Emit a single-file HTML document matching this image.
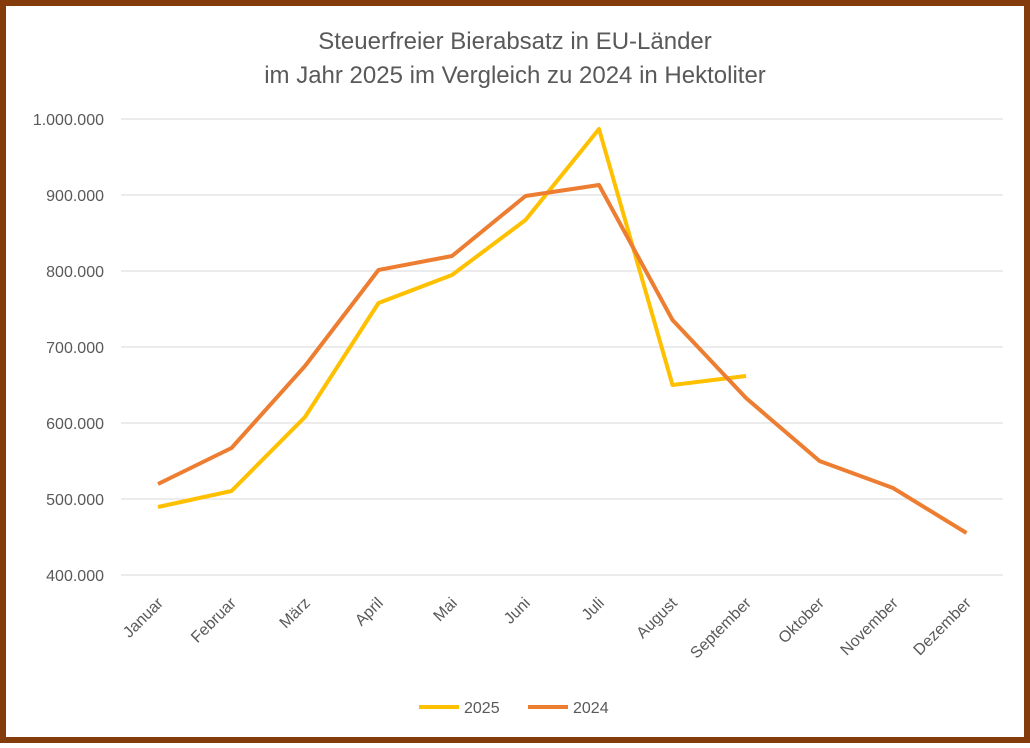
<!DOCTYPE html>
<html><head><meta charset="utf-8"><style>
html,body{margin:0;padding:0;background:#fff;}
body{width:1030px;height:743px;overflow:hidden;}
</style></head><body>
<svg width="1030" height="743" viewBox="0 0 1030 743" xmlns="http://www.w3.org/2000/svg" font-family="Liberation Sans, sans-serif">
<rect x="0" y="0" width="1030" height="743" fill="#fff"/>
<rect x="3" y="3" width="1024" height="737" fill="none" stroke="#843c0c" stroke-width="6"/>
<text x="515" y="49" text-anchor="middle" font-size="24" fill="#595959">Steuerfreier Bierabsatz in EU-Länder</text>
<text x="515" y="83" text-anchor="middle" font-size="24" fill="#595959">im Jahr 2025 im Vergleich zu 2024 in Hektoliter</text>
<g stroke="#d9d9d9" stroke-width="1">
<line x1="121" x2="1003" y1="119" y2="119"/><line x1="121" x2="1003" y1="195" y2="195"/>
<line x1="121" x2="1003" y1="271" y2="271"/><line x1="121" x2="1003" y1="347" y2="347"/>
<line x1="121" x2="1003" y1="423" y2="423"/><line x1="121" x2="1003" y1="499" y2="499"/>
<line x1="121" x2="1003" y1="575" y2="575"/>
</g>
<g font-size="16" fill="#595959" text-anchor="end">
<text x="104" y="125">1.000.000</text><text x="104" y="201">900.000</text>
<text x="104" y="277">800.000</text><text x="104" y="353">700.000</text>
<text x="104" y="429">600.000</text><text x="104" y="505">500.000</text>
<text x="104" y="581">400.000</text>
</g>
<g font-size="16" fill="#595959" text-anchor="end">
<text transform="translate(164,604) rotate(-45)">Januar</text>
<text transform="translate(237,604) rotate(-45)">Februar</text>
<text transform="translate(311,604) rotate(-45)">März</text>
<text transform="translate(384,604) rotate(-45)">April</text>
<text transform="translate(458,604) rotate(-45)">Mai</text>
<text transform="translate(531,604) rotate(-45)">Juni</text>
<text transform="translate(605,604) rotate(-45)">Juli</text>
<text transform="translate(678,604) rotate(-45)">August</text>
<text transform="translate(752,604) rotate(-45)">September</text>
<text transform="translate(825,604) rotate(-45)">Oktober</text>
<text transform="translate(899,604) rotate(-45)">November</text>
<text transform="translate(972,604) rotate(-45)">Dezember</text>
</g>
<polyline fill="none" stroke="#ffc000" stroke-width="4" stroke-linejoin="round" points="158,507 231.5,491 305,417 378.5,303 452,275 525.5,220 599,129 672.5,385 746,376"/>
<polyline fill="none" stroke="#ed7d31" stroke-width="4" stroke-linejoin="round" points="158,484 231.5,448 305,366 378.5,270 452,256 525.5,196 599,185 672.5,320 746,398 819.5,461 893,488 966.5,533"/>
<line x1="419" x2="459" y1="707" y2="707" stroke="#ffc000" stroke-width="4"/>
<text x="464" y="713" font-size="16" fill="#595959">2025</text>
<line x1="528" x2="568" y1="707" y2="707" stroke="#ed7d31" stroke-width="4"/>
<text x="573" y="713" font-size="16" fill="#595959">2024</text>
</svg>
</body></html>
